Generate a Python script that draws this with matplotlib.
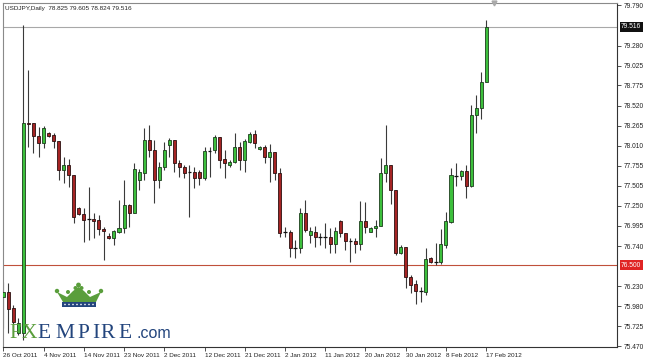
import matplotlib
matplotlib.use('Agg')
import matplotlib.pyplot as plt
from matplotlib.patches import Rectangle, Polygon, Circle
import numpy as np

plt.rcParams['font.family'] = ['Liberation Sans', 'DejaVu Sans']

# --- data: USDJPY daily bars ---
opens = [76.095, 76.158, 75.955, 75.638, 75.640, 78.300, 78.299, 78.135, 78.046, 78.173,
         78.147, 78.071, 77.704, 77.767, 77.641, 77.222, 77.146, 77.080, 77.083, 77.070,
         76.956, 76.868, 76.842, 76.918, 76.969, 77.260, 77.159, 77.577, 77.666, 78.084,
         77.957, 77.577, 77.742, 78.021, 78.084, 77.793, 77.742, 77.679, 77.679, 77.679,
         77.603, 77.945, 77.957, 78.122, 77.843, 77.767, 77.805, 77.995, 77.831, 78.059,
         78.160, 77.970, 77.995, 77.869, 77.932, 77.666, 76.918, 76.918, 76.716, 76.716,
         77.159, 76.880, 76.918, 76.855, 76.855, 76.855, 76.766, 77.058, 76.906, 76.804,
         76.804, 76.766, 77.058, 76.918, 76.969, 76.994, 77.666, 77.767, 77.450, 76.652,
         76.728, 76.348, 76.259, 76.171, 76.158, 76.589, 76.538, 76.538, 76.754, 77.045,
         77.628, 77.628, 77.691, 77.501, 78.401, 78.490, 78.825]
highs = [76.285, 76.272, 75.993, 75.830, 79.540, 78.971, 78.300, 78.249, 78.261, 78.180,
         78.173, 78.071, 77.869, 77.843, 77.641, 77.235, 77.222, 77.488, 77.159, 77.130,
         76.982, 76.906, 76.944, 77.324, 77.577, 77.273, 77.793, 77.717, 78.236, 78.274,
         78.080, 77.805, 78.059, 78.109, 78.084, 77.831, 77.767, 77.767, 77.742, 77.704,
         77.995, 77.995, 78.147, 78.122, 77.957, 77.831, 78.173, 78.059, 78.097, 78.190,
         78.211, 78.010, 78.021, 78.033, 77.932, 77.729, 76.982, 76.944, 76.817, 77.222,
         77.324, 76.982, 76.994, 76.906, 77.032, 76.969, 76.982, 77.070, 76.906, 76.842,
         76.842, 77.311, 77.298, 76.982, 77.070, 77.856, 78.274, 77.767, 77.450, 76.754,
         76.728, 76.373, 76.310, 76.221, 76.716, 76.602, 76.779, 76.956, 77.172, 77.729,
         77.793, 77.704, 77.767, 78.528, 78.654, 78.946, 79.605]
lows = [75.702, 75.638, 75.638, 75.610, 75.550, 77.995, 77.919, 77.869, 77.983, 78.120,
        77.983, 77.577, 77.539, 77.488, 77.032, 77.133, 76.791, 76.817, 76.842, 76.880,
        76.563, 76.830, 76.754, 76.906, 76.906, 76.982, 77.159, 77.450, 77.577, 77.869,
        77.286, 77.476, 77.704, 77.869, 77.679, 77.615, 77.603, 77.108, 77.476, 77.514,
        77.577, 77.615, 77.919, 77.729, 77.603, 77.742, 77.793, 77.704, 77.679, 78.046,
        77.983, 77.957, 77.793, 77.552, 77.577, 76.855, 76.855, 76.602, 76.589, 76.652,
        76.918, 76.779, 76.728, 76.754, 76.716, 76.652, 76.652, 76.855, 76.690, 76.538,
        76.652, 76.690, 76.906, 76.918, 76.855, 76.994, 77.552, 77.273, 76.627, 76.640,
        76.209, 76.145, 76.006, 76.031, 76.120, 76.525, 76.500, 76.510, 76.716, 77.032,
        77.501, 77.577, 77.349, 77.488, 78.173, 78.350, 78.824]
closes = [76.158, 75.943, 75.777, 75.765, 78.300, 78.285, 78.135, 78.046, 78.236, 78.135,
          78.071, 77.704, 77.767, 77.641, 77.108, 77.146, 77.070, 77.080, 77.058, 76.956,
          76.931, 76.842, 76.931, 76.969, 77.260, 77.159, 77.717, 77.679, 78.084, 77.957,
          77.577, 77.742, 77.957, 78.084, 77.793, 77.742, 77.666, 77.679, 77.603, 77.603,
          77.945, 77.945, 78.122, 77.831, 77.793, 77.805, 77.995, 77.831, 78.071, 78.160,
          78.046, 77.995, 77.869, 77.932, 77.666, 76.906, 76.918, 76.716, 76.716, 77.159,
          76.944, 76.931, 76.855, 76.855, 76.855, 76.766, 76.931, 76.906, 76.804, 76.804,
          76.766, 77.058, 76.982, 76.969, 76.994, 77.666, 77.767, 77.450, 76.652, 76.728,
          76.348, 76.247, 76.171, 76.171, 76.576, 76.538, 76.538, 76.766, 77.058, 77.641,
          77.628, 77.691, 77.501, 78.401, 78.490, 78.819, 79.516]

date_labels = ['26 Oct 2011', '4 Nov 2011', '14 Nov 2011', '23 Nov 2011', '2 Dec 2011',
               '12 Dec 2011', '21 Dec 2011', '2 Jan 2012', '11 Jan 2012', '20 Jan 2012',
               '30 Jan 2012', '8 Feb 2012', '17 Feb 2012']
bars_per_label = 8

price_ticks = [79.790, 79.280, 79.025, 78.775, 78.520, 78.265, 78.010, 77.755, 77.505,
               77.250, 76.995, 76.740, 76.230, 75.980, 75.725, 75.470]

last_price = 79.516
level_line = 76.500

title = 'USDJPY,Daily  78.825 79.605 78.824 79.516'

# --- figure ---
fig = plt.figure(figsize=(6.45, 3.61), dpi=100)
ax = fig.add_axes([3 / 645, 14 / 361, 614 / 645, 344 / 361])

idx = np.arange(len(opens))
o = np.array(opens)
c = np.array(closes)

# wicks
ax.vlines(idx, lows, highs, color='#3a3a3a', linewidth=0.8, zorder=2)

# bodies
bull = c > o
bear = c < o
doji = c == o
ax.bar(idx[bull], (c - o)[bull], bottom=o[bull], width=0.6,
       color='#3cbf3c', edgecolor='#1d3d1d', linewidth=0.6, zorder=3)
ax.bar(idx[bear], (o - c)[bear], bottom=c[bear], width=0.6,
       color='#a52424', edgecolor='#2a1010', linewidth=0.6, zorder=3)
ax.hlines(o[doji], idx[doji] - 0.35, idx[doji] + 0.35, color='#111111', linewidth=0.9, zorder=3)

# horizontal lines
ax.axhline(last_price, color='#a8a8a8', linewidth=0.8, zorder=1)
ax.axhline(level_line, color='#c0503a', linewidth=0.8, zorder=1)

ax.set_xlim(-0.06, 122.0)
ax.set_ylim(75.461, 79.820)

# x axis
xt = np.arange(len(date_labels)) * bars_per_label
ax.set_xticks(xt)
ax.set_xticklabels(date_labels, fontsize=4.6, color='#222222', ha='left')
ax.tick_params(axis='x', direction='out', length=3, width=0.6, pad=1.5, color='#333333')

# y axis on the right
ax.yaxis.tick_right()
ax.set_yticks(price_ticks)
ax.set_yticklabels([f'{v:.3f}' for v in price_ticks], fontsize=4.8, color='#222222')
ax.tick_params(axis='y', direction='out', length=3, width=0.6, pad=1.5, color='#333333')

for s in ['top', 'left']:
    ax.spines[s].set_color('#8a8a8a')
    ax.spines[s].set_linewidth(0.8)
for s in ['bottom', 'right']:
    ax.spines[s].set_color('#333333')
    ax.spines[s].set_linewidth(0.8)

# price boxes
ax.annotate(f'{last_price:.3f}', xy=(1, last_price), xycoords=('axes fraction', 'data'),
            xytext=(3, 0), textcoords='offset points', fontsize=4.8, color='white',
            va='center', ha='left', annotation_clip=False,
            bbox=dict(boxstyle='square,pad=0.2', fc='#111111', ec='none'))
ax.annotate(f'{level_line:.3f}', xy=(1, level_line), xycoords=('axes fraction', 'data'),
            xytext=(3, 0), textcoords='offset points', fontsize=4.8, color='white',
            va='center', ha='left', annotation_clip=False,
            bbox=dict(boxstyle='square,pad=0.2', fc='#e02424', ec='none'))

# chart shift marker
ax.plot([97.5], [1.0], marker='v', markersize=3.5, color='#aaaaaa',
        transform=ax.get_xaxis_transform(), clip_on=False, zorder=5)

# title
ax.text(0.004, 0.99, title, transform=ax.transAxes, fontsize=4.6, color='#222222',
        ha='left', va='top')

# --- logo overlay (pixel coordinates) ---
lg = fig.add_axes([0, 0, 1, 1], zorder=4)
lg.set_xlim(0, 645)
lg.set_ylim(361, 0)
lg.axis('off')
lg.patch.set_alpha(0)

green = '#5a9e3c'
navy = '#23457d'
crown = Polygon([(57, 292), (63, 302), (96, 302), (101, 292), (90, 297), (84, 291),
                 (78.5, 287), (73, 291), (67, 297)], closed=True, fc=green, ec='none')
lg.add_patch(crown)
for cx, cy, r in [(57, 291, 2.2), (101, 291, 2.2), (68, 292, 2.0), (89, 292, 2.0),
                  (78.5, 285, 2.4), (75.5, 288, 2.0), (81.5, 288, 2.0)]:
    lg.add_patch(Circle((cx, cy), r, fc=green, ec='none'))
lg.add_patch(Rectangle((62, 302), 34, 5, fc=navy, ec='none'))
for dx in np.arange(65, 95, 4):
    lg.add_patch(Circle((dx, 304.5), 0.8, fc='white', ec='none'))

letters = [('F', 9, green), ('X', 22, green), ('E', 37, navy), ('M', 55, navy),
           ('P', 77, navy), ('I', 92, navy), ('R', 100, navy), ('E', 118, navy)]
for ch, lx, col in letters:
    lg.text(lx, 337.5, ch, fontsize=15.5, color=col, ha='left', va='baseline',
            family=['Liberation Serif', 'DejaVu Serif'])
lg.text(137, 337.5, '.com', fontsize=11.5, color=navy, ha='left', va='baseline')

fig.savefig('out.png', dpi=100, facecolor='white')
